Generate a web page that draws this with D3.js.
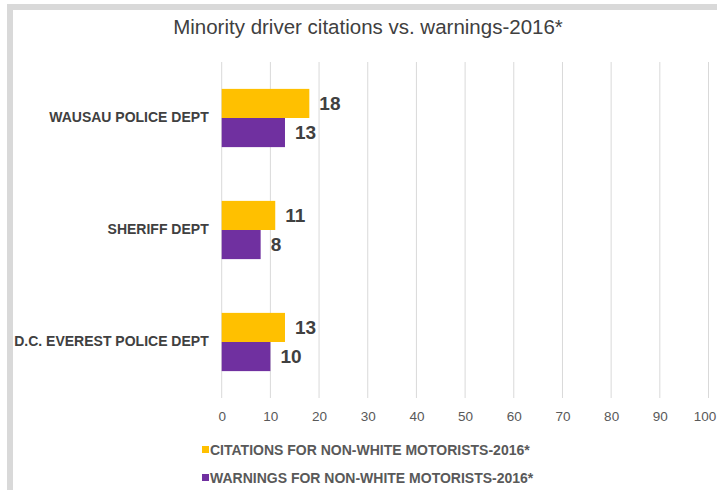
<!DOCTYPE html>
<html><head><meta charset="utf-8">
<script src="https://cdn.jsdelivr.net/npm/d3@7"></script>
<style>body{margin:0;background:#fff;} svg{display:block;}</style>
</head><body>
<script>
const categories = ["WAUSAU POLICE DEPT", "SHERIFF DEPT", "D.C. EVEREST POLICE DEPT"];
const seriesNames = ["CITATIONS FOR NON-WHITE MOTORISTS-2016*", "WARNINGS FOR NON-WHITE MOTORISTS-2016*"];
const citations = [18, 11, 13];
const warnings = [13, 8, 10];
const xTicks = [0, 10, 20, 30, 40, 50, 60, 70, 80, 90, 100];
const title = "Minority driver citations vs. warnings-2016*";

const W = 717, H = 490;
const colors = ["#FFC000", "#7030A0"];
const font = "'Liberation Sans',Arial,sans-serif";

const svg = d3.select("body").append("svg").attr("width", W).attr("height", H);
svg.append("rect").attr("width", W).attr("height", H).attr("fill", "#fff");
// gray frame (top and left)
svg.append("rect").attr("x", 7).attr("y", 4).attr("width", W - 7).attr("height", 6).attr("fill", "#d9d9d9");
svg.append("rect").attr("x", 7).attr("y", 4).attr("width", 6).attr("height", H - 4).attr("fill", "#d9d9d9");

const x = d3.scaleLinear().domain([0, 100]).range([221.7, 708.5]);
const y = d3.scaleBand().domain(categories).range([62, 398]).paddingInner(0.48).paddingOuter(0.24);
const ySub = d3.scaleBand().domain([0, 1]).range([0, y.bandwidth()]);

// gridlines
svg.append("g").selectAll("line").data(xTicks).join("line")
  .attr("x1", d => x(d)).attr("x2", d => x(d)).attr("y1", 62).attr("y2", 398)
  .attr("stroke", "#d9d9d9").attr("stroke-width", 1);

// x axis labels
const xAxis = d3.axisBottom(x).tickValues(xTicks).tickSize(0).tickPadding(0);
const gx = svg.append("g").attr("transform", "translate(0,398)").call(xAxis);
gx.select(".domain").remove();
gx.selectAll("text").attr("y", 23).attr("dy", 0)
  .attr("font-family", font).attr("font-size", 13.5).attr("fill", "#595959")
  .attr("dx", (d, i) => i === xTicks.length - 1 ? -4 : 0);

// y axis labels
const yAxis = d3.axisLeft(y).tickSize(0).tickPadding(13);
const gy = svg.append("g").attr("transform", `translate(${x(0)},0)`).call(yAxis);
gy.select(".domain").remove();
gy.selectAll("text").attr("font-family", font).attr("font-size", 14)
  .attr("font-weight", "bold").attr("fill", "#404040");

const series = [citations, warnings];
series.forEach((vals, si) => {
  const g = svg.append("g");
  g.selectAll("rect").data(vals).join("rect")
    .attr("x", x(0))
    .attr("y", (d, i) => y(categories[i]) + ySub(si))
    .attr("width", d => x(d) - x(0))
    .attr("height", ySub.bandwidth())
    .attr("fill", colors[si]);
  g.selectAll("text").data(vals).join("text")
    .attr("x", d => x(d) + 10)
    .attr("y", (d, i) => y(categories[i]) + ySub(si) + ySub.bandwidth() / 2)
    .attr("dy", "0.36em")
    .attr("font-family", font).attr("font-size", 19).attr("font-weight", "bold")
    .attr("fill", "#404040")
    .text(d => d);
});

// title
svg.append("text").attr("x", 368).attr("y", 34).attr("text-anchor", "middle")
  .attr("font-family", font).attr("font-size", 20.5).attr("fill", "#404040").text(title);

// legend
const lg = svg.append("g");
seriesNames.forEach((name, i) => {
  const yy = 450 + i * 28;
  lg.append("rect").attr("x", 202).attr("y", yy - 4).attr("width", 7).attr("height", 7).attr("fill", colors[i]);
  lg.append("text").attr("x", 210).attr("y", yy).attr("dy", "0.36em")
    .attr("font-family", font).attr("font-size", 14).attr("font-weight", "bold")
    .attr("fill", "#595959").text(name);
});
</script>
</body></html>
